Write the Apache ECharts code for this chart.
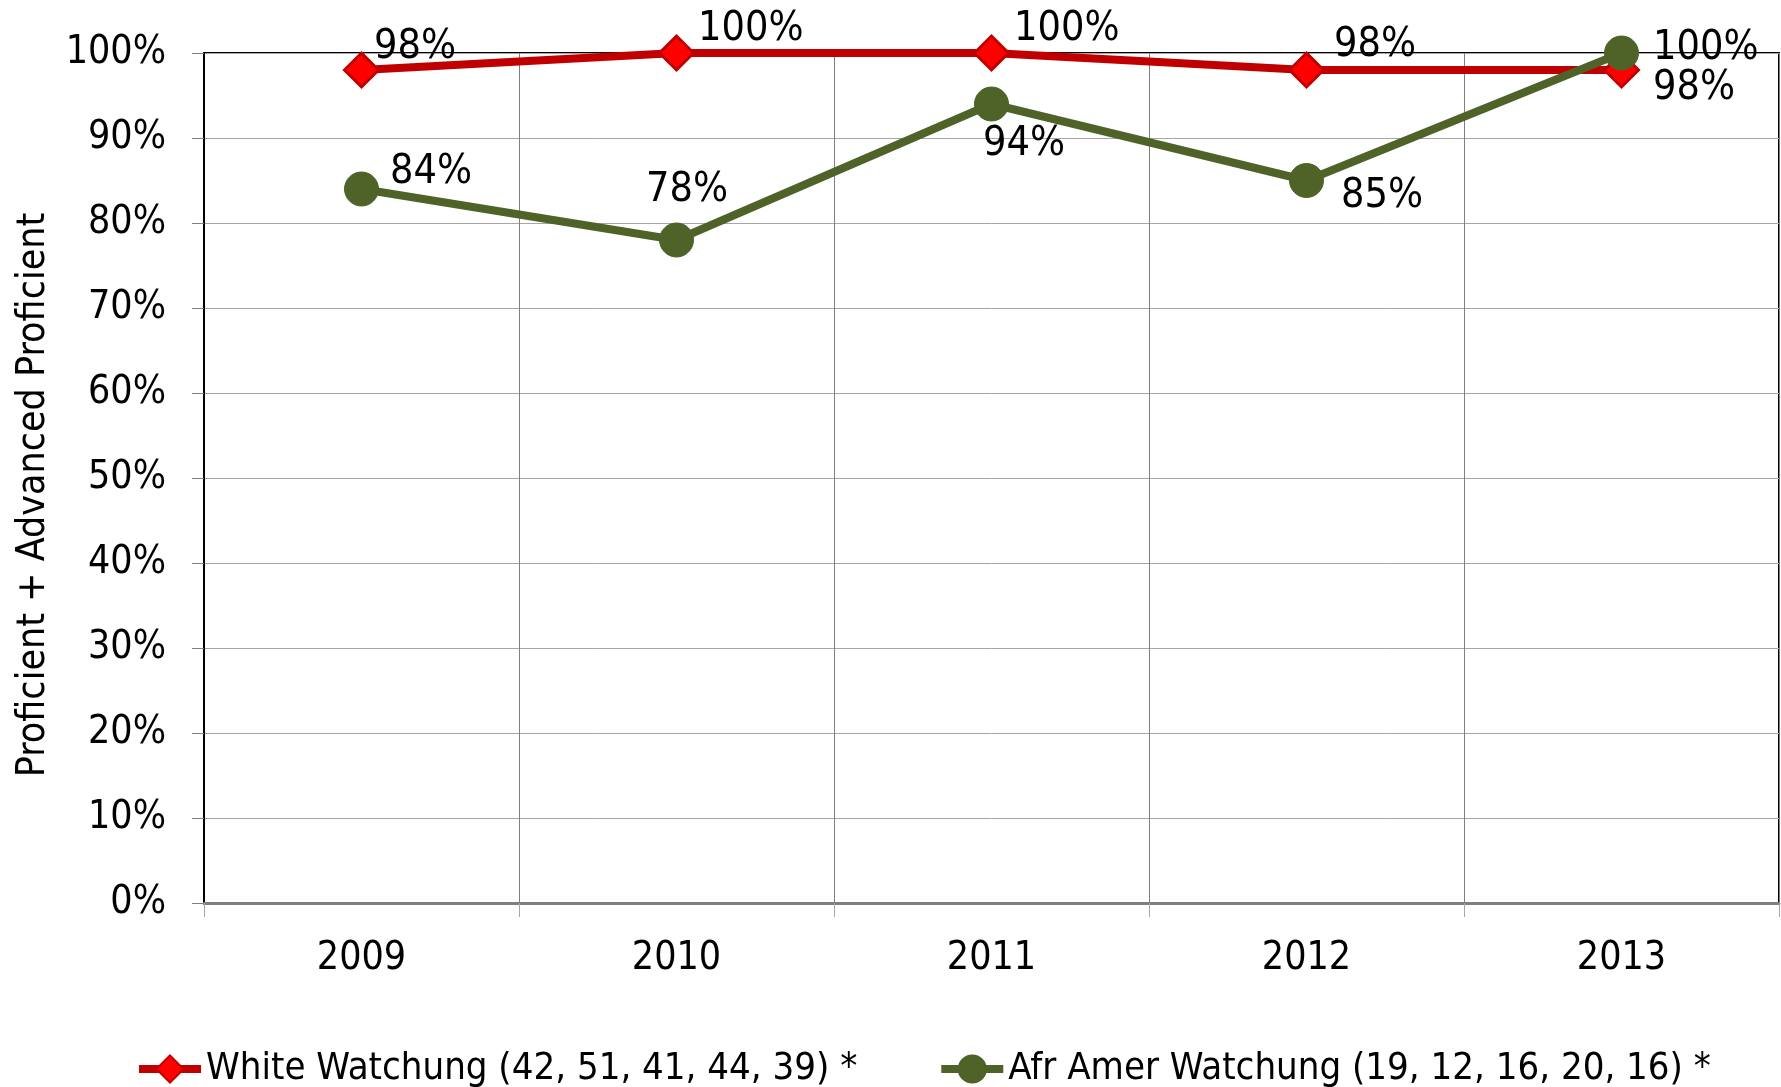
<!DOCTYPE html>
<html>
<head>
<meta charset="utf-8">
<script src="https://cdn.jsdelivr.net/npm/echarts@6/dist/echarts.min.js"></script>
<style>
  html, body { margin: 0; padding: 0; background: #fff; }
  #chart { width: 1781px; height: 1087px; }
</style>
</head>
<body>
<div id="chart"></div>
<script>
var years = ["2009", "2010", "2011", "2012", "2013"];
var whiteValues = [98, 100, 100, 98, 98];
var afrAmerValues = [84, 78, 94, 85, 100];
var seriesNames = ["White Watchung (42, 51, 41, 44, 39) *", "Afr Amer Watchung (19, 12, 16, 20, 16) *"];
var yTicks = [0, 10, 20, 30, 40, 50, 60, 70, 80, 90, 100];

var FONT = "'Liberation Sans Narrow', 'DejaVu Sans Condensed', 'Open Sans', sans-serif";

// label placement per point (style only)
var whiteLabelPos = [[-11, -23], [-2, -24], [-1, -24], [4, -25], [8, 18]];
var afrLabelPos = [[6, -17], [-53, -50], [-31, 40], [12, 16], [9, -5]];

function withLabels(values, offsets) {
  return values.map(function (v, i) {
    return {
      value: v,
      label: { offset: offsets[i] }
    };
  });
}

var chart = echarts.init(document.getElementById("chart"));

var option = {
  animation: false,
  textStyle: { fontFamily: FONT },
  grid: {
    left: 204,
    right: 2,
    top: 53,
    bottom: 184,
    outerBoundsMode: "none",
    containLabel: false,
    show: true,
    borderColor: "#000",
    borderWidth: 2
  },
  legend: {
    left: 130,
    top: 1045,
    itemWidth: 62,
    itemHeight: 34,
    itemGap: 80,
    lineStyle: { width: 8 },
    textStyle: { fontSize: 38, color: "#000", fontFamily: FONT }
  },
  xAxis: {
    type: "category",
    data: years,
    boundaryGap: true,
    axisLine: { lineStyle: { color: "#7f7f7f", width: 3 } },
    axisTick: { show: true, length: 14, lineStyle: { color: "#a6a6a6" } },
    axisLabel: { fontSize: 39, color: "#000", margin: 36 },
    splitLine: { show: true, lineStyle: { color: "#7f7f7f", width: 1 } }
  },
  yAxis: {
    type: "value",
    min: yTicks[0],
    max: yTicks[yTicks.length - 1],
    interval: 10,
    name: "Proficient + Advanced Proficient",
    nameLocation: "middle",
    nameGap: 151,
    nameTextStyle: { fontSize: 39, color: "#000", padding: [0, 34, 0, 0] },
    axisLine: { show: true, lineStyle: { color: "#000", width: 2 } },
    axisTick: { show: true, length: 12, lineStyle: { color: "#7f7f7f" } },
    axisLabel: { fontSize: 39, color: "#000", margin: 38, formatter: "{value}%" },
    splitLine: { lineStyle: { color: "#a6a6a6", width: 1 } }
  },
  series: [
    {
      name: seriesNames[0],
      type: "line",
      data: withLabels(whiteValues, whiteLabelPos),
      symbol: "diamond",
      symbolSize: [34, 34],
      lineStyle: { color: "#c00000", width: 8 },
      itemStyle: { color: "#ff0000", borderColor: "#c00000", borderWidth: 3 },
      label: {
        show: true,
        position: "right",
        fontSize: 41,
        color: "#000",
        formatter: "{c}%"
      },
      z: 2
    },
    {
      name: seriesNames[1],
      type: "line",
      data: withLabels(afrAmerValues, afrLabelPos),
      symbol: "circle",
      symbolSize: 34,
      lineStyle: { color: "#4f6228", width: 8 },
      itemStyle: { color: "#4f6228", borderColor: "#4f6228", borderWidth: 1 },
      label: {
        show: true,
        position: "right",
        fontSize: 41,
        color: "#000",
        formatter: "{c}%"
      },
      z: 3
    }
  ]
};

chart.setOption(option);
</script>
</body>
</html>
